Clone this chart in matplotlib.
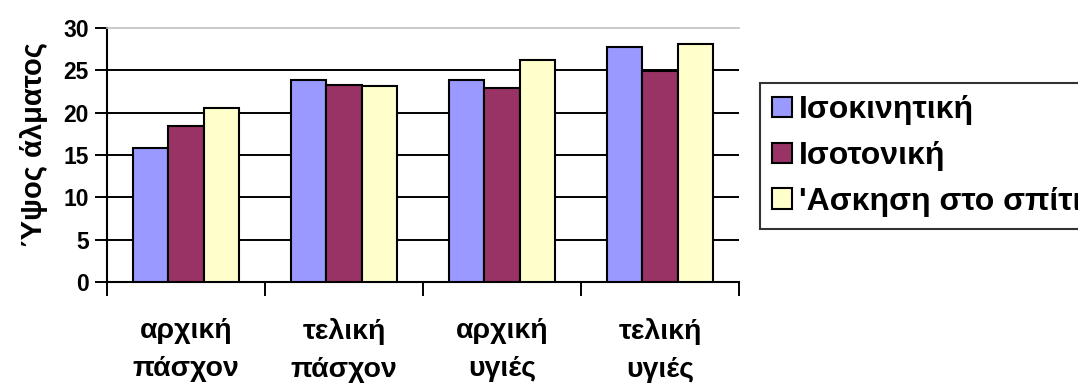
import matplotlib
matplotlib.use("Agg")
import matplotlib.pyplot as plt
import numpy as np

categories = ["αρχική\nπάσχον", "τελική\nπάσχον", "αρχική\nυγιές", "τελική\nυγιές"]
series_names = ["Ισοκινητική", "Ισοτονική", "'Ασκηση στο σπίτι"]
isokinetic = [15.8, 23.8, 23.8, 27.7]
isotonic = [18.4, 23.3, 22.9, 24.9]
home_exercise = [20.6, 23.1, 26.2, 28.1]
colors = ["#9999FF", "#993366", "#FFFFCC"]
y_ticks = [0, 5, 10, 15, 20, 25, 30]

FONT = "Liberation Sans"
plt.rcParams["font.family"] = [FONT, "DejaVu Sans"]
plt.rcParams["font.weight"] = "bold"

fig = plt.figure(figsize=(10.78, 3.90), dpi=100)
ax = fig.add_axes([107 / 1078, 1 - 282 / 390, (739 - 107) / 1078, (282 - 28) / 390])

x = np.arange(len(categories))
width = 1 / 4.5
for i, (vals, col, name) in enumerate(zip([isokinetic, isotonic, home_exercise], colors, series_names)):
    ax.bar(x + (i - 1) * width, vals, width, color=col, edgecolor="black",
           linewidth=1.5, label=name, zorder=3)

ax.set_xlim(-0.5, len(categories) - 0.5)
ax.set_ylim(0, 30)

# horizontal gridlines
for yv in y_ticks[1:-1]:
    ax.axhline(yv, color="black", linewidth=1.4, zorder=1)

ax.set_yticks(y_ticks)
ax.set_yticklabels([str(v) for v in y_ticks], fontweight="bold", fontsize=16.5)
ax.tick_params(axis="y", direction="out", length=9, width=1.4, pad=4)

# category ticks between groups, labels at group centers
ax.set_xticks(np.arange(len(categories) + 1) - 0.5)
ax.set_xticklabels([])
ax.tick_params(axis="x", direction="out", length=10, width=1.4)
for xi, lab in zip(x, categories):
    ax.text(xi, -0.14, lab, transform=ax.get_xaxis_transform(), ha="center", va="top",
            fontweight="bold", fontsize=20.5, linespacing=1.6)

for s in ["left", "bottom"]:
    ax.spines[s].set_linewidth(1.5)
    ax.spines[s].set_color("black")
ax.spines["right"].set_visible(False)
ax.spines["top"].set_color("#c0c0c0")
ax.spines["top"].set_linewidth(1.2)

ax.set_ylabel("Ύψος άλματος", fontweight="bold", fontsize=21)
ax.yaxis.set_label_coords(-0.094, 0.54)

leg = fig.legend(loc="upper left", bbox_to_anchor=(760 / 1078, 1 - 83 / 390),
                 prop={"weight": "bold", "size": 23},
                 frameon=True, fancybox=False, edgecolor="black",
                 handlelength=0.62, handleheight=0.62, handletextpad=0.22,
                 labelspacing=0.5, borderpad=0.38, borderaxespad=0)
leg.get_frame().set_linewidth(1.5)
for h in leg.legend_handles:
    h.set_linewidth(1.5)

fig.savefig("out.png", dpi=100)
